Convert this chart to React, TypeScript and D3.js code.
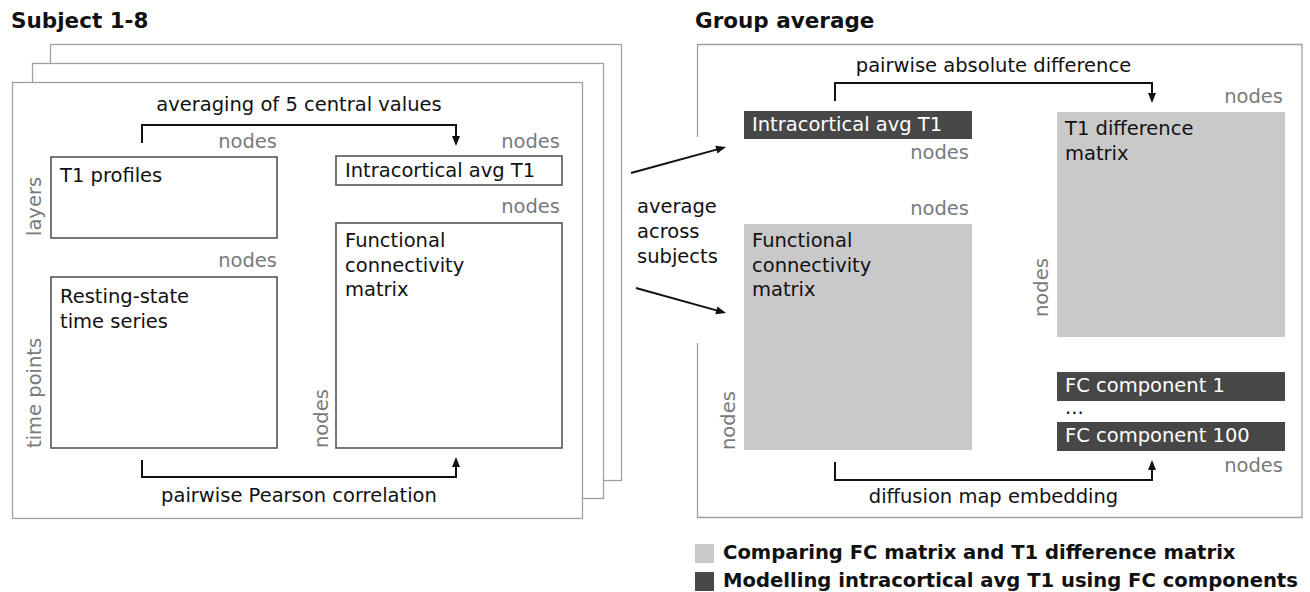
import React, { useEffect, useRef } from "react";
import * as d3 from "d3";

const W = 1310;
const H = 592;
const FONT = "DejaVu Sans, sans-serif";

const titles = [
  { text: "Subject 1-8", x: 11, y: 28 },
  { text: "Group average", x: 695, y: 28 },
];

// stacked subject frames, back to front
const stackFrames = [
  { x: 50, y: 44, w: 571, h: 436 },
  { x: 32, y: 63, w: 571, h: 435 },
  { x: 12, y: 82, w: 570, h: 436 },
];

// per-subject outlined boxes
const subjectBoxes = [
  { lines: ["T1 profiles"], x: 51, y: 157, w: 226, h: 81, dy: 25 },
  { lines: ["Intracortical avg T1"], x: 336, y: 156, w: 226, h: 29, dy: 21 },
  { lines: ["Functional", "connectivity", "matrix"], x: 336, y: 223, w: 226, h: 225, dy: 24 },
  { lines: ["Resting-state", "time series"], x: 51, y: 277, w: 226, h: 171, dy: 26 },
];

// group-level filled boxes (kind: light = comparison, dark = modelling)
const groupBoxes = [
  { lines: ["Intracortical avg T1"], kind: "dark", x: 744, y: 111, w: 228, h: 28, dy: 20 },
  { lines: ["Functional", "connectivity", "matrix"], kind: "light", x: 744, y: 224, w: 228, h: 226, dy: 23 },
  { lines: ["T1 difference", "matrix"], kind: "light", x: 1057, y: 112, w: 228, h: 225, dy: 23 },
  { lines: ["FC component 1"], kind: "dark", x: 1057, y: 372, w: 228, h: 29, dy: 20 },
  { lines: ["FC component 100"], kind: "dark", x: 1057, y: 422, w: 228, h: 29, dy: 20 },
];

// gray axis labels (horizontal, right aligned)
const axisLabels = [
  { text: "nodes", x: 277, y: 148 },
  { text: "nodes", x: 560, y: 148 },
  { text: "nodes", x: 560, y: 213 },
  { text: "nodes", x: 277, y: 267 },
  { text: "nodes", x: 1283, y: 103 },
  { text: "nodes", x: 969, y: 159 },
  { text: "nodes", x: 969, y: 215 },
  { text: "nodes", x: 1283, y: 472 },
];

// gray axis labels (vertical)
const axisLabelsV = [
  { text: "layers", x: 41, y: 236 },
  { text: "time points", x: 41, y: 448 },
  { text: "nodes", x: 328, y: 448 },
  { text: "nodes", x: 735, y: 450 },
  { text: "nodes", x: 1048, y: 317 },
];

// bracket arrows: from x1 to x2, horizontal at yLine
const brackets = [
  { label: "averaging of 5 central values", x1: 142, x2: 456, yLine: 125, yFrom: 143, yTo: 146, ly: 111 },
  { label: "pairwise Pearson correlation", x1: 142, x2: 456, yLine: 477, yFrom: 460, yTo: 457, ly: 502 },
  { label: "pairwise absolute difference", x1: 835, x2: 1152, yLine: 83, yFrom: 101, yTo: 103, ly: 72 },
  { label: "diffusion map embedding", x1: 835, x2: 1152, yLine: 480, yFrom: 462, yTo: 460, ly: 503 },
];

const diagArrows = [
  { x1: 631, y1: 173, x2: 726, y2: 147 },
  { x1: 636, y1: 288, x2: 726, y2: 313 },
];

const averageText = ["average", "across", "subjects"];

const legendItems = [
  { text: "Comparing FC matrix and T1 difference matrix", kind: "light" },
  { text: "Modelling intracortical avg T1 using FC components", kind: "dark" },
];

const fills: Record<string, string> = { light: "#c9c9c9", dark: "#474747" };

function arrowHead(g: any, x: number, y: number, angle: number) {
  // triangle pointing along angle (radians), tip at (x,y)
  const len = 10;
  const half = 4;
  const pts: [number, number][] = [
    [0, 0],
    [-len, -half],
    [-len, half],
  ];
  g.append("path")
    .attr("d", d3.line()(pts) + "Z")
    .attr("transform", `translate(${x},${y}) rotate(${(angle * 180) / Math.PI})`)
    .attr("fill", "#111");
}

export default function App() {
  const ref = useRef<SVGSVGElement>(null);

  useEffect(() => {
    const svg = d3.select(ref.current);
    svg.selectAll("*").remove();

    // titles
    svg
      .selectAll("text.title")
      .data(titles)
      .enter()
      .append("text")
      .attr("x", (d) => d.x)
      .attr("y", (d) => d.y)
      .text((d) => d.text)
      .style("font-family", FONT)
      .style("font-weight", "bold")
      .style("font-size", "21.5px")
      .style("fill", "#111");

    // stacked frames
    svg
      .selectAll("rect.frame")
      .data(stackFrames)
      .enter()
      .append("rect")
      .attr("x", (d) => d.x + 0.5)
      .attr("y", (d) => d.y + 0.5)
      .attr("width", (d) => d.w)
      .attr("height", (d) => d.h)
      .attr("fill", "#fff")
      .attr("stroke", "#a0a0a0")
      .attr("stroke-width", 1.3);

    // group frame, left side open where arrows come in
    const gx = 697.5;
    const frame = d3.path();
    frame.moveTo(gx, 137);
    frame.lineTo(gx, 44.5);
    frame.lineTo(1302, 44.5);
    frame.lineTo(1302, 517.5);
    frame.lineTo(gx, 517.5);
    frame.lineTo(gx, 343);
    svg
      .append("path")
      .attr("d", frame.toString())
      .attr("fill", "none")
      .attr("stroke", "#a0a0a0")
      .attr("stroke-width", 1.3);

    // subject boxes
    const sb = svg.selectAll("g.sbox").data(subjectBoxes).enter().append("g");
    sb.append("rect")
      .attr("x", (d) => d.x)
      .attr("y", (d) => d.y)
      .attr("width", (d) => d.w)
      .attr("height", (d) => d.h)
      .attr("fill", "#fff")
      .attr("stroke", "#555")
      .attr("stroke-width", 1.6);
    sb.each(function (d) {
      const t = d3.select(this);
      d.lines.forEach((line, i) => {
        t.append("text")
          .attr("x", d.x + 9)
          .attr("y", d.y + d.dy + i * 24.5)
          .text(line)
          .style("font-family", FONT)
          .style("font-size", "19.5px")
          .style("fill", "#111");
      });
    });

    // group boxes
    const gb = svg.selectAll("g.gbox").data(groupBoxes).enter().append("g");
    gb.append("rect")
      .attr("x", (d) => d.x)
      .attr("y", (d) => d.y)
      .attr("width", (d) => d.w)
      .attr("height", (d) => d.h)
      .attr("fill", (d) => fills[d.kind]);
    gb.each(function (d) {
      const t = d3.select(this);
      d.lines.forEach((line, i) => {
        t.append("text")
          .attr("x", d.x + 8)
          .attr("y", d.y + d.dy + i * 24.5)
          .text(line)
          .style("font-family", FONT)
          .style("font-size", "19.5px")
          .style("fill", d.kind === "dark" ? "#fff" : "#111");
      });
    });

    // ellipsis between components
    svg
      .append("text")
      .attr("x", 1065)
      .attr("y", 414)
      .text("...")
      .style("font-family", FONT)
      .style("font-size", "19.5px")
      .style("fill", "#111");

    // gray axis labels
    svg
      .selectAll("text.axis")
      .data(axisLabels)
      .enter()
      .append("text")
      .attr("x", (d) => d.x)
      .attr("y", (d) => d.y)
      .attr("text-anchor", "end")
      .text((d) => d.text)
      .style("font-family", FONT)
      .style("font-size", "19.5px")
      .style("fill", "#7a7a7a");

    svg
      .selectAll("text.axisv")
      .data(axisLabelsV)
      .enter()
      .append("text")
      .attr("transform", (d) => `translate(${d.x},${d.y}) rotate(-90)`)
      .attr("text-anchor", "start")
      .text((d) => d.text)
      .style("font-family", FONT)
      .style("font-size", "19.5px")
      .style("fill", "#7a7a7a");

    // brackets
    brackets.forEach((b) => {
      const dir = b.yTo > b.yLine ? 1 : -1;
      const p = d3.path();
      p.moveTo(b.x1, b.yFrom);
      p.lineTo(b.x1, b.yLine);
      p.lineTo(b.x2, b.yLine);
      p.lineTo(b.x2, b.yTo - dir * 8);
      svg
        .append("path")
        .attr("d", p.toString())
        .attr("fill", "none")
        .attr("stroke", "#111")
        .attr("stroke-width", 2);
      arrowHead(svg, b.x2, b.yTo, dir > 0 ? Math.PI / 2 : -Math.PI / 2);
      svg
        .append("text")
        .attr("x", (b.x1 + b.x2) / 2)
        .attr("y", b.ly)
        .attr("text-anchor", "middle")
        .text(b.label)
        .style("font-family", FONT)
        .style("font-size", "19.5px")
        .style("fill", "#111");
    });

    // diagonal arrows
    diagArrows.forEach((a) => {
      const ang = Math.atan2(a.y2 - a.y1, a.x2 - a.x1);
      svg
        .append("line")
        .attr("x1", a.x1)
        .attr("y1", a.y1)
        .attr("x2", a.x2 - Math.cos(ang) * 8)
        .attr("y2", a.y2 - Math.sin(ang) * 8)
        .attr("stroke", "#111")
        .attr("stroke-width", 2);
      arrowHead(svg, a.x2, a.y2, ang);
    });

    svg
      .selectAll("text.avg")
      .data(averageText)
      .enter()
      .append("text")
      .attr("x", 637)
      .attr("y", (d, i) => 213 + i * 25)
      .text((d) => d)
      .style("font-family", FONT)
      .style("font-size", "19.5px")
      .style("fill", "#111");

    // legend
    const lg = svg
      .selectAll("g.legend")
      .data(legendItems)
      .enter()
      .append("g")
      .attr("transform", (d, i) => `translate(695,${544 + i * 28})`);
    lg.append("rect")
      .attr("width", 19)
      .attr("height", 19)
      .attr("fill", (d) => fills[d.kind]);
    lg.append("text")
      .attr("x", 28)
      .attr("y", 15)
      .text((d) => d.text)
      .style("font-family", FONT)
      .style("font-weight", "bold")
      .style("font-size", "19.6px")
      .style("fill", "#111");
  }, []);

  return (
    <svg
      ref={ref}
      width={W}
      height={H}
      style={{ position: "absolute", left: 0, top: 0, background: "#fff" }}
    />
  );
}
